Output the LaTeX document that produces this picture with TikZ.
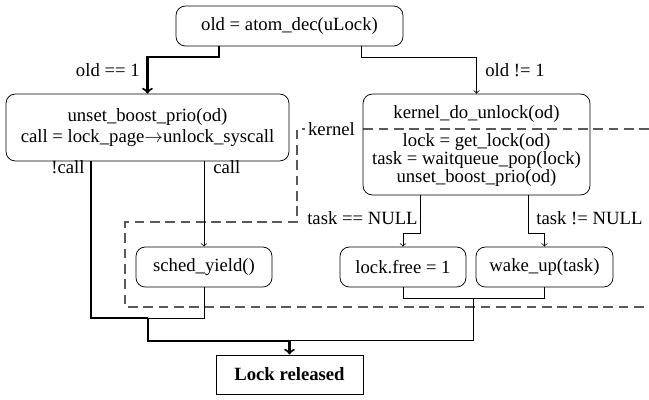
\documentclass[tikz,border=0pt]{standalone}
\usepackage{fontspec}
\setmainfont{Liberation Serif}
\usetikzlibrary{calc}
\begin{document}
\begin{tikzpicture}[x=0.535pt,y=-0.535pt,
  box/.style={draw,rounded corners=5pt,align=center,inner sep=2pt,font=\fontsize{10pt}{10pt}\selectfont},
  txt/.style={align=center,inner sep=1pt,font=\fontsize{10pt}{9.5pt}\selectfont},
  endbox/.style={draw,align=center,font=\bfseries},
  thk/.style={line width=1.1pt},
  lbl/.style={inner sep=0pt},
  kern/.style={dashed,dash pattern=on 5.2pt off 3pt,black!65,line width=0.6pt},
  >=to]
\useasboundingbox (0,0) rectangle (649,399);

% kernel boundary
\draw[kern] (649,129) -- (297,129) -- (297,222) -- (125,222) -- (125,307) -- (649,307);
\node[fill=white,inner sep=1.5pt] (klabel) at (331.5,129) {kernel};

% nodes
\node[box,minimum width=121.4pt,minimum height=21.4pt] (top) at (289.5,26) {old = atom\_dec(uLock)};
\node[box,minimum width=151.4pt,minimum height=35.8pt] (left) at (147.5,127.5)
  {unset\_boost\_prio(od)\\[1pt]call = lock\_page$\rightarrow$unlock\_syscall};
\node[box,minimum width=121.4pt,minimum height=54pt] (right) at (476.5,144.5) {};
\node[txt] (ktitle) at (476.5,114) {kernel\_do\_unlock(od)};
\node[txt] (kbody) at (476.5,160)
  {lock = get\_lock(od)\\task = waitqueue\_pop(lock)\\unset\_boost\_prio(od)};
\node[box,minimum width=72.8pt,minimum height=21.4pt] (sched) at (204,267) {sched\_yield()};
\node[box,minimum width=67.4pt,minimum height=21.4pt] (lf) at (403,267) {lock.free = 1};
\node[box,minimum width=73.3pt,minimum height=21.4pt] (wu) at (544.5,267) {wake\_up(task)};
\node[endbox,minimum width=78.6pt,minimum height=20.9pt] (rel) at (289.5,374.5) {Lock released};

% top branches
\draw[thk,->] ($(top.south)+(-70.5,0)$) -- ++(0,11) -| (left.north);
\draw[->] ($(top.south)+(71.5,0)$) -- ++(0,11) -| (right.north);
\node[lbl,anchor=east] (l1) at (140,70) {old == 1};
\node[lbl,anchor=west] (l2) at (485,70) {old != 1};

% left branches
\draw[->] (left.south -| sched.north) -- (sched.north);
\node[lbl,anchor=east] (l3) at (85,167) {!call};
\node[lbl,anchor=west] (l4) at (213,167) {call};

% right branches
\draw[->] ($(right.south)+(-56.5,0)$) -- ++(0,38) -| (lf.north);
\draw[->] ($(right.south)+(51.5,0)$) -- ++(0,38) -| (wu.north);
\node[lbl,anchor=east] (l5) at (418,218) {task == NULL};
\node[lbl,anchor=west] (l6) at (536,218) {task != NULL};

% merges
\coordinate (m1) at (148,318);
\coordinate (m2) at (473,298);
\coordinate (j) at ($(rel.north)+(0,-14)$);
\draw[thk] ($(left.south)+(-56.5,0)$) |- (m1);
\draw (sched.south) |- (m1);
\draw (lf.south) |- (m2);
\draw (wu.south) |- (m2);
\draw (m2) |- (j);
\draw[thk,->] (m1) |- (j) -- (rel.north);
\end{tikzpicture}
\end{document}
